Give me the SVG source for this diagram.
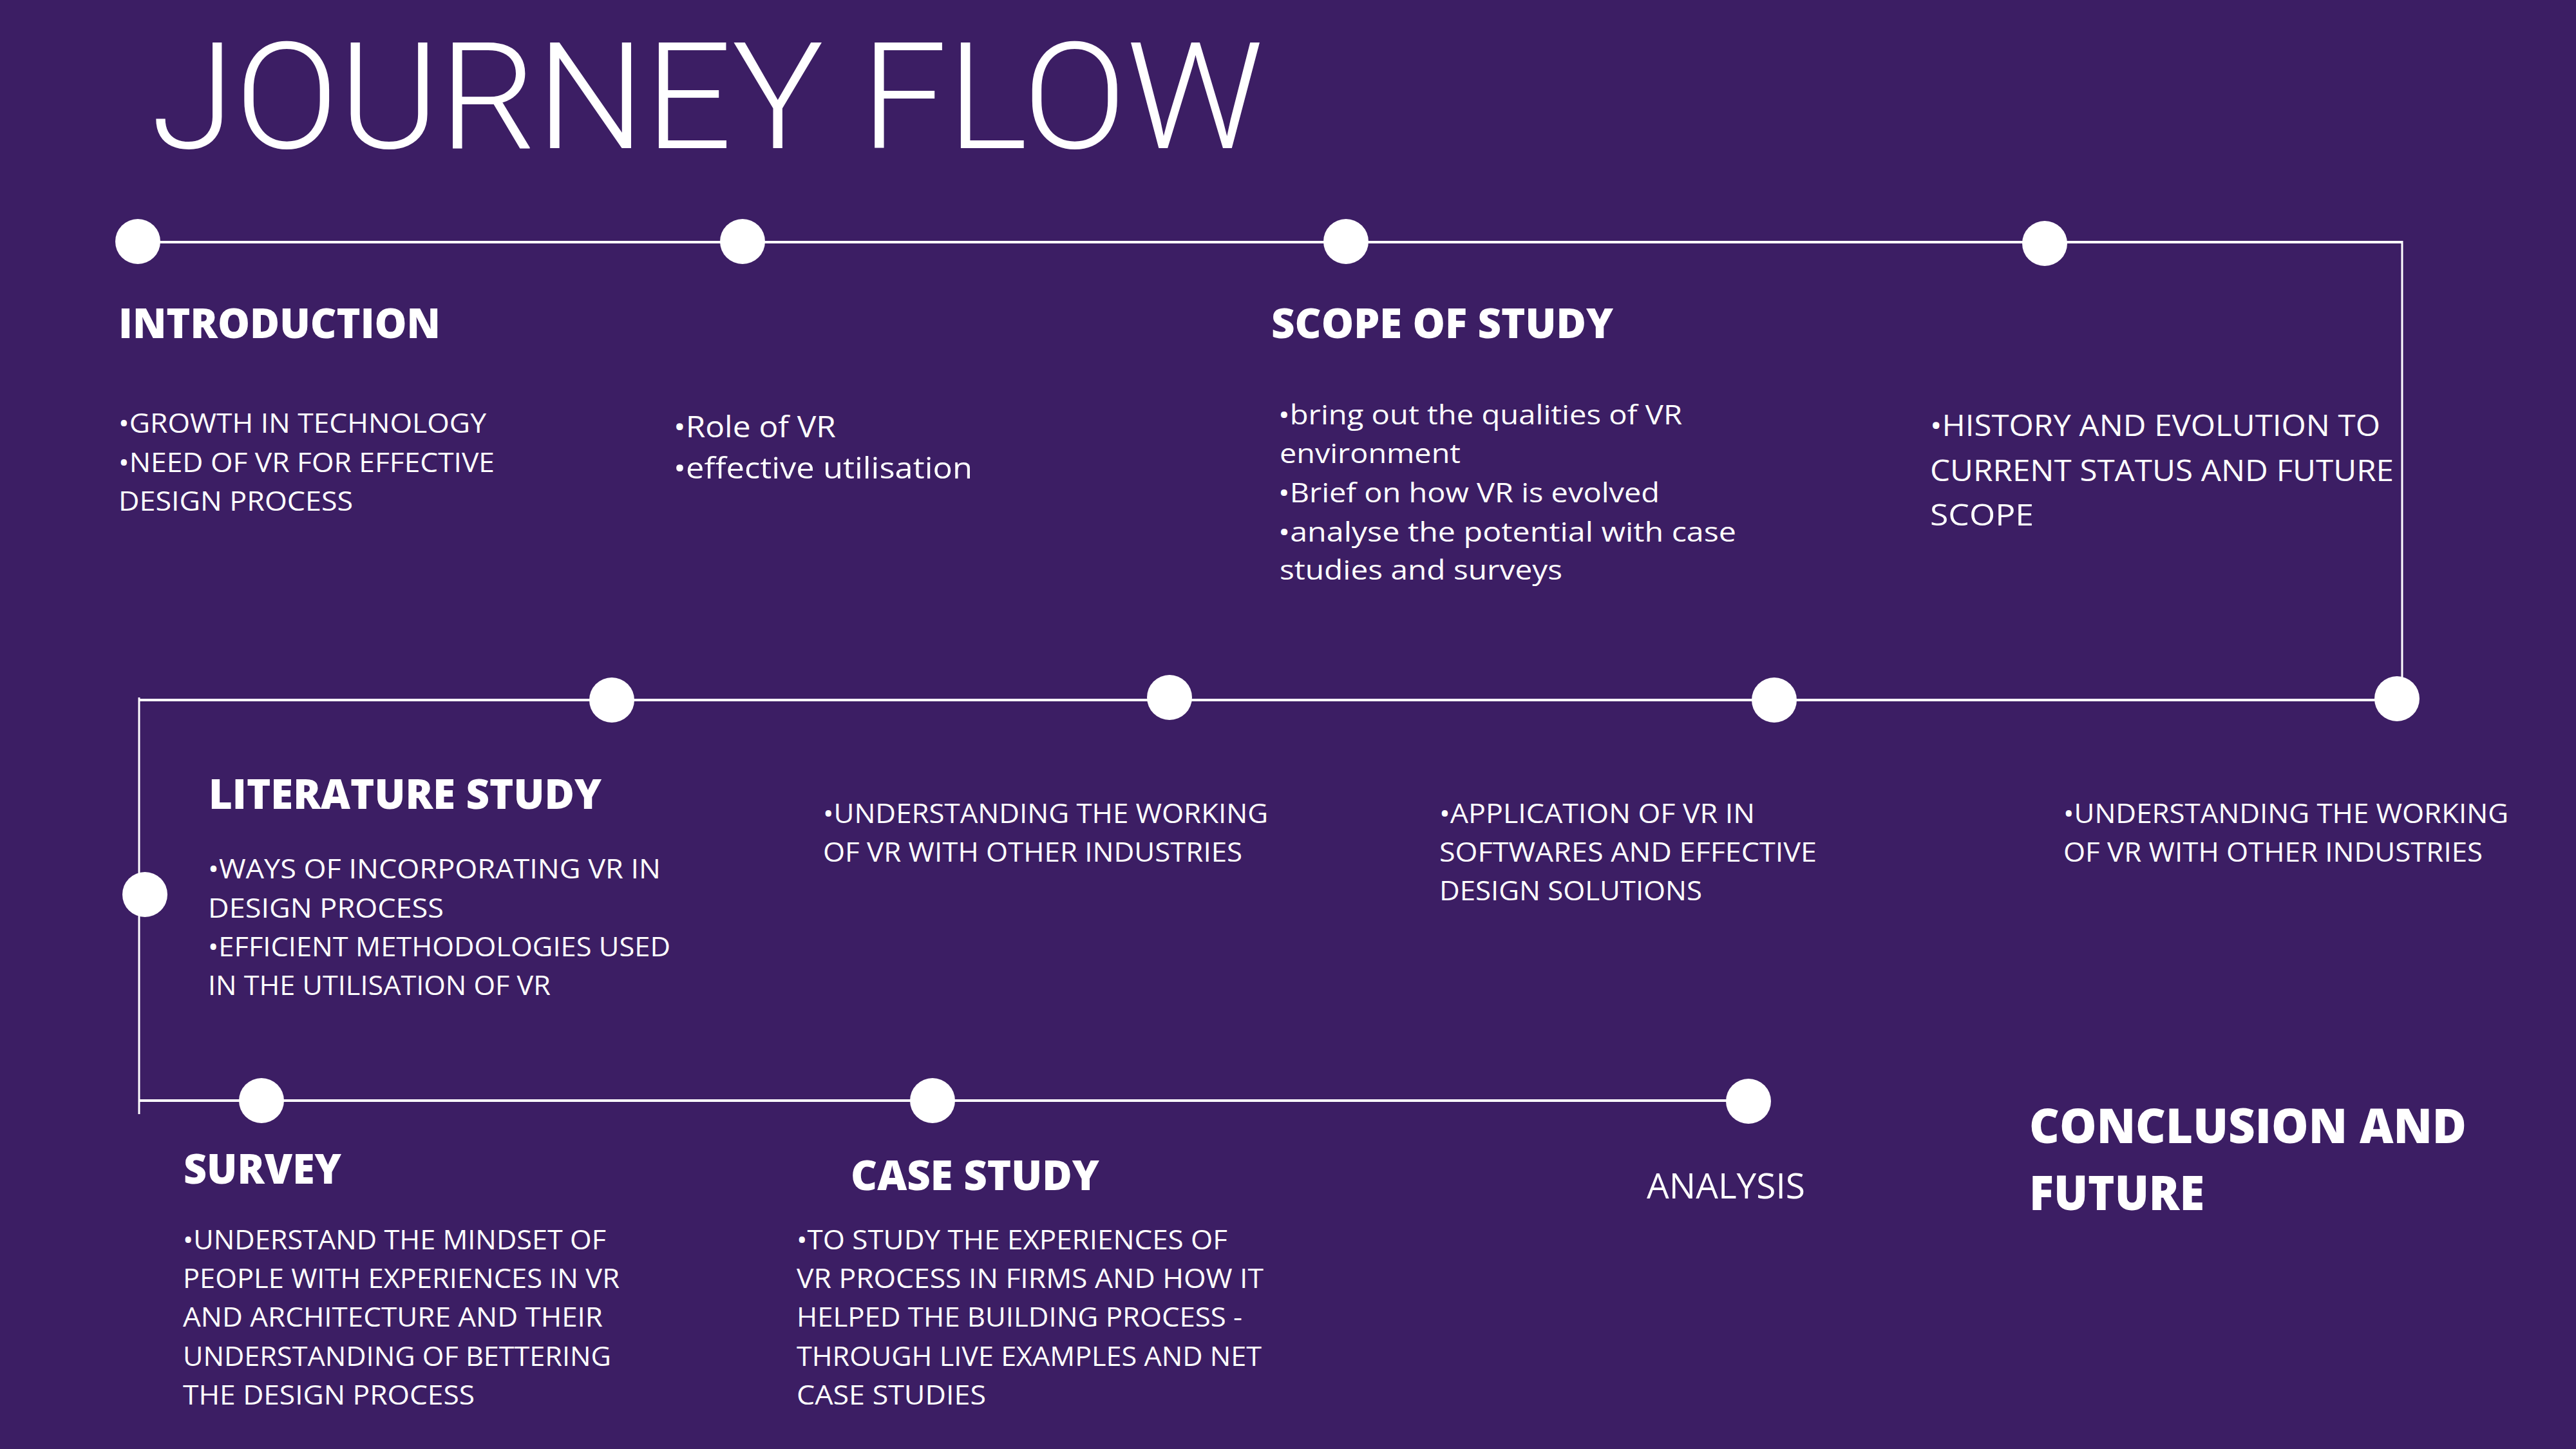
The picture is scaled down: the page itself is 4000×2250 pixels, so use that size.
<svg xmlns="http://www.w3.org/2000/svg" width="4000" height="2250" viewBox="0 0 4000 2250">
  <style>
    .bg { fill: #3c1e64; }
    .title { font-family: Roboto, "Liberation Sans", sans-serif; font-weight: 300; font-size: 230px; fill: #ffffff; }
    .head { font-family: "Open Sans", "Liberation Sans", sans-serif; font-weight: 800; font-size: 64px; fill: #ffffff; }
    .head-lg { font-family: "Open Sans", "Liberation Sans", sans-serif; font-weight: 800; font-size: 74px; fill: #ffffff; }
    .body { font-family: "Open Sans", "Liberation Sans", sans-serif; font-weight: 400; font-size: 42px; fill: #ffffff; }
    .body-md { font-family: "Open Sans", "Liberation Sans", sans-serif; font-weight: 400; font-size: 46px; fill: #ffffff; }
    .body-lg { font-family: "Open Sans", "Liberation Sans", sans-serif; font-weight: 400; font-size: 54px; fill: #ffffff; }
    .dot { fill: #ffffff; }
    .track { stroke: #ffffff; stroke-width: 4; fill: none; }
    .track-v { stroke: #ffffff; stroke-width: 3; fill: none; }
  </style>

  <rect class="bg" x="0" y="0" width="4000" height="2250"/>

  <g id="title">
    <text class="title" x="234" y="230" textLength="1728" lengthAdjust="spacingAndGlyphs">JOURNEY FLOW</text>
  </g>

  <!-- timeline track -->
  <g id="connectors">
    <line class="track" x1="214" y1="376" x2="3731" y2="376"/>
    <line class="track-v" x1="3730" y1="374" x2="3730" y2="1117"/>
    <line class="track" x1="3731" y1="1087" x2="216" y2="1087"/>
    <line class="track-v" x1="216" y1="1083" x2="216" y2="1730"/>
    <line class="track" x1="216" y1="1709" x2="2715" y2="1709"/>
  </g>

  <g id="introduction">
    <circle class="dot" cx="214" cy="375" r="35"/>
    <text class="head" x="184" y="525" textLength="500" lengthAdjust="spacingAndGlyphs">INTRODUCTION</text>
    <text class="body" x="184" y="672" textLength="571" lengthAdjust="spacingAndGlyphs">•GROWTH IN TECHNOLOGY</text>
    <text class="body" x="184" y="733" textLength="584" lengthAdjust="spacingAndGlyphs">•NEED OF VR FOR EFFECTIVE</text>
    <text class="body" x="184" y="793" textLength="364" lengthAdjust="spacingAndGlyphs">DESIGN PROCESS</text>
  </g>

  <g id="role-of-vr">
    <circle class="dot" cx="1153" cy="375" r="35"/>
    <text class="body-md" x="1046" y="679" textLength="252" lengthAdjust="spacingAndGlyphs">•Role of VR</text>
    <text class="body-md" x="1046" y="743" textLength="464" lengthAdjust="spacingAndGlyphs">•effective utilisation</text>
  </g>

  <g id="scope-of-study">
    <circle class="dot" cx="2090" cy="375" r="35"/>
    <text class="head" x="1974" y="525" textLength="531" lengthAdjust="spacingAndGlyphs">SCOPE OF STUDY</text>
    <text class="body" x="1985" y="659" textLength="627" lengthAdjust="spacingAndGlyphs">•bring out the qualities of VR</text>
    <text class="body" x="1987" y="719" textLength="281" lengthAdjust="spacingAndGlyphs">environment</text>
    <text class="body" x="1985" y="780" textLength="592" lengthAdjust="spacingAndGlyphs">•Brief on how VR is evolved</text>
    <text class="body" x="1985" y="841" textLength="711" lengthAdjust="spacingAndGlyphs">•analyse the potential with case</text>
    <text class="body" x="1987" y="900" textLength="439" lengthAdjust="spacingAndGlyphs">studies and surveys</text>
  </g>

  <g id="history">
    <circle class="dot" cx="3175" cy="378" r="35"/>
    <text class="body-md" x="2997" y="677" textLength="699" lengthAdjust="spacingAndGlyphs">•HISTORY AND EVOLUTION TO</text>
    <text class="body-md" x="2997" y="747" textLength="720" lengthAdjust="spacingAndGlyphs">CURRENT STATUS AND FUTURE</text>
    <text class="body-md" x="2997" y="816" textLength="161" lengthAdjust="spacingAndGlyphs">SCOPE</text>
  </g>

  <g id="industries-b">
    <circle class="dot" cx="3722" cy="1085" r="35"/>
    <text class="body" x="3204" y="1278" textLength="691" lengthAdjust="spacingAndGlyphs">•UNDERSTANDING THE WORKING</text>
    <text class="body" x="3204" y="1338" textLength="651" lengthAdjust="spacingAndGlyphs">OF VR WITH OTHER INDUSTRIES</text>
  </g>

  <g id="application">
    <circle class="dot" cx="2755" cy="1087" r="35"/>
    <text class="body" x="2235" y="1278" textLength="490" lengthAdjust="spacingAndGlyphs">•APPLICATION OF VR IN</text>
    <text class="body" x="2235" y="1338" textLength="586" lengthAdjust="spacingAndGlyphs">SOFTWARES AND EFFECTIVE</text>
    <text class="body" x="2235" y="1398" textLength="408" lengthAdjust="spacingAndGlyphs">DESIGN SOLUTIONS</text>
  </g>

  <g id="industries-a">
    <circle class="dot" cx="1816" cy="1083" r="35"/>
    <text class="body" x="1278" y="1278" textLength="691" lengthAdjust="spacingAndGlyphs">•UNDERSTANDING THE WORKING</text>
    <text class="body" x="1278" y="1338" textLength="651" lengthAdjust="spacingAndGlyphs">OF VR WITH OTHER INDUSTRIES</text>
  </g>

  <g id="literature-study">
    <circle class="dot" cx="950" cy="1087" r="35"/>
    <circle class="dot" cx="225" cy="1389" r="35"/>
    <text class="head" x="324" y="1256" textLength="610" lengthAdjust="spacingAndGlyphs">LITERATURE STUDY</text>
    <text class="body" x="323" y="1364" textLength="703" lengthAdjust="spacingAndGlyphs">•WAYS OF INCORPORATING VR IN</text>
    <text class="body" x="323" y="1425" textLength="366" lengthAdjust="spacingAndGlyphs">DESIGN PROCESS</text>
    <text class="body" x="323" y="1485" textLength="718" lengthAdjust="spacingAndGlyphs">•EFFICIENT METHODOLOGIES USED</text>
    <text class="body" x="323" y="1545" textLength="532" lengthAdjust="spacingAndGlyphs">IN THE UTILISATION OF VR</text>
  </g>

  <g id="survey">
    <circle class="dot" cx="406" cy="1709" r="35"/>
    <text class="head" x="285" y="1838" textLength="245" lengthAdjust="spacingAndGlyphs">SURVEY</text>
    <text class="body" x="284" y="1940" textLength="657" lengthAdjust="spacingAndGlyphs">•UNDERSTAND THE MINDSET OF</text>
    <text class="body" x="284" y="2000" textLength="678" lengthAdjust="spacingAndGlyphs">PEOPLE WITH EXPERIENCES IN VR</text>
    <text class="body" x="284" y="2060" textLength="652" lengthAdjust="spacingAndGlyphs">AND ARCHITECTURE AND THEIR</text>
    <text class="body" x="284" y="2121" textLength="665" lengthAdjust="spacingAndGlyphs">UNDERSTANDING OF BETTERING</text>
    <text class="body" x="284" y="2181" textLength="453" lengthAdjust="spacingAndGlyphs">THE DESIGN PROCESS</text>
  </g>

  <g id="case-study">
    <circle class="dot" cx="1448" cy="1709" r="35"/>
    <text class="head" x="1321" y="1848" textLength="386" lengthAdjust="spacingAndGlyphs">CASE STUDY</text>
    <text class="body" x="1237" y="1940" textLength="669" lengthAdjust="spacingAndGlyphs">•TO STUDY THE EXPERIENCES OF</text>
    <text class="body" x="1237" y="2000" textLength="725" lengthAdjust="spacingAndGlyphs">VR PROCESS IN FIRMS AND HOW IT</text>
    <text class="body" x="1237" y="2060" textLength="692" lengthAdjust="spacingAndGlyphs">HELPED THE BUILDING PROCESS -</text>
    <text class="body" x="1237" y="2121" textLength="722" lengthAdjust="spacingAndGlyphs">THROUGH LIVE EXAMPLES AND NET</text>
    <text class="body" x="1237" y="2181" textLength="294" lengthAdjust="spacingAndGlyphs">CASE STUDIES</text>
  </g>

  <g id="analysis">
    <circle class="dot" cx="2715" cy="1710" r="35"/>
    <text class="body-lg" x="2557" y="1861" textLength="246" lengthAdjust="spacingAndGlyphs">ANALYSIS</text>
  </g>

  <g id="conclusion">
    <text class="head-lg" x="3151" y="1775" textLength="679" lengthAdjust="spacingAndGlyphs">CONCLUSION AND</text>
    <text class="head-lg" x="3151" y="1879" textLength="272" lengthAdjust="spacingAndGlyphs">FUTURE</text>
  </g>
</svg>
